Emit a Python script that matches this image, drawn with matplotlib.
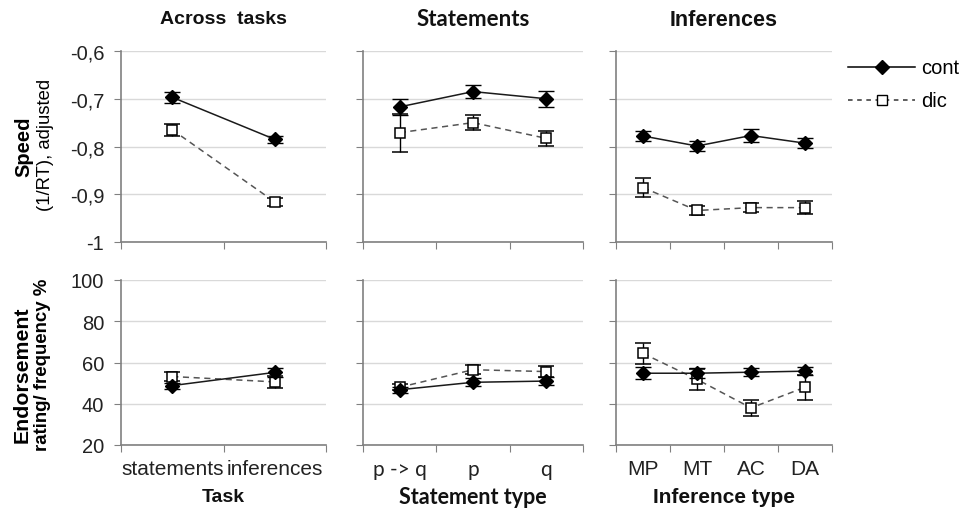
import matplotlib
matplotlib.use('Agg')
import matplotlib.pyplot as plt

plt.rcParams['font.family'] = ['Liberation Sans', 'DejaVu Sans']

task_cats = ['statements', 'inferences']
stmt_cats = ['p -> q', 'p', 'q']
inf_cats = ['MP', 'MT', 'AC', 'DA']

# speed (1/RT), adjusted
speed_task_cont = [-0.697, -0.785]
speed_task_cont_err = [0.012, 0.008]
speed_task_dic = [-0.765, -0.916]
speed_task_dic_err = [0.013, 0.009]
speed_stmt_cont = [-0.717, -0.685, -0.700]
speed_stmt_cont_err = [0.017, 0.014, 0.017]
speed_stmt_dic = [-0.771, -0.750, -0.783]
speed_stmt_dic_err = [0.040, 0.016, 0.016]
speed_inf_cont = [-0.778, -0.799, -0.777, -0.793]
speed_inf_cont_err = [0.010, 0.011, 0.013, 0.010]
speed_inf_dic = [-0.886, -0.934, -0.928, -0.928]
speed_inf_dic_err = [0.019, 0.010, 0.010, 0.014]

# endorsement %
end_task_cont = [48.8, 55.2]
end_task_cont_err = [1.5, 2.0]
end_task_dic = [53.2, 50.6]
end_task_dic_err = [2.0, 2.8]
end_stmt_cont = [46.8, 50.4, 51.0]
end_stmt_cont_err = [1.5, 2.0, 2.0]
end_stmt_dic = [48.0, 56.5, 55.6]
end_stmt_dic_err = [1.5, 2.2, 2.5]
end_inf_cont = [54.8, 54.8, 55.3, 55.8]
end_inf_cont_err = [3.0, 2.5, 2.0, 2.0]
end_inf_dic = [64.4, 51.8, 38.0, 48.0]
end_inf_dic_err = [5.0, 5.0, 4.0, 6.0]

speed_ticks = [-1, -0.9, -0.8, -0.7, -0.6]
speed_ticklabels = ['-1', '-0,9', '-0,8', '-0,7', '-0,6']
end_ticks = [20, 40, 60, 80, 100]

W, H = 966, 510
fig = plt.figure(figsize=(W / 100, H / 100), dpi=100)

cols = [(121, 326), (363, 583), (616, 832)]
top_row = (52, 243)
bot_row = (281, 446)


def make_ax(col, row):
    x0, x1 = col
    y0, y1 = row
    return fig.add_axes([x0 / W, 1 - y1 / H, (x1 - x0) / W, (y1 - y0) / H])


def draw(ax, cats, cont, cont_err, dic, dic_err):
    x = list(range(len(cats)))
    ax.errorbar(x, dic, yerr=dic_err, color='#555555', ls=(0, (4, 3)), lw=1.1,
                marker='s', ms=7, mfc='white', mec='black', mew=1.1,
                ecolor='black', elinewidth=1, capsize=5.5, capthick=1, zorder=3)
    ax.errorbar(x, cont, yerr=cont_err, color='#1a1a1a', ls='-', lw=1.1,
                marker='D', ms=7.5, mfc='black', mec='black',
                ecolor='black', elinewidth=1, capsize=5.5, capthick=1, zorder=4)
    ax.set_xlim(-0.5, len(cats) - 0.5)
    ax.set_xticks([i - 0.5 for i in range(len(cats) + 1)])
    ax.set_xticklabels([])
    ax.set_xticks(x, minor=True)
    ax.tick_params(axis='x', which='major', length=5, color='#808080', direction='out')
    ax.tick_params(axis='x', which='minor', length=0)
    ax.tick_params(axis='y', length=5, color='#808080', direction='out', labelsize=14.5,
                   pad=7, labelcolor='#222222')
    ax.grid(axis='y', color='#d9d9d9', lw=1)
    ax.set_axisbelow(True)
    for s in ['top', 'right']:
        ax.spines[s].set_visible(False)
    for s in ['left', 'bottom']:
        ax.spines[s].set_color('#808080')
        ax.spines[s].set_linewidth(1.2)


speed_data = [
    (task_cats, speed_task_cont, speed_task_cont_err, speed_task_dic, speed_task_dic_err),
    (stmt_cats, speed_stmt_cont, speed_stmt_cont_err, speed_stmt_dic, speed_stmt_dic_err),
    (inf_cats, speed_inf_cont, speed_inf_cont_err, speed_inf_dic, speed_inf_dic_err),
]
end_data = [
    (task_cats, end_task_cont, end_task_cont_err, end_task_dic, end_task_dic_err),
    (stmt_cats, end_stmt_cont, end_stmt_cont_err, end_stmt_dic, end_stmt_dic_err),
    (inf_cats, end_inf_cont, end_inf_cont_err, end_inf_dic, end_inf_dic_err),
]

titles = ['Across  tasks', 'Statements', 'Inferences']
title_fonts = ['Liberation Sans', 'Lato', 'Liberation Sans']
title_sizes = [14, 16, 15.5]
xlabels = ['Task', 'Statement type', 'Inference type']
xlabel_sizes = [14, 15.5, 15]
tick_fonts = ['Liberation Sans', 'Lato', 'Liberation Sans']

for i in range(3):
    ax = make_ax(cols[i], top_row)
    draw(ax, *speed_data[i])
    ax.set_ylim(-1, -0.6)
    ax.set_yticks(speed_ticks)
    if i == 0:
        ax.set_yticklabels(speed_ticklabels)
    else:
        ax.set_yticklabels([])
    xc = (cols[i][0] + cols[i][1]) / 2 / W
    fig.text(xc, 1 - 20 / H, titles[i], ha='center', va='center', fontsize=title_sizes[i],
             fontweight='bold', family=title_fonts[i], color='#111111')

    ax = make_ax(cols[i], bot_row)
    draw(ax, *end_data[i])
    ax.set_ylim(20, 100)
    ax.set_yticks(end_ticks)
    if i == 0:
        ax.set_yticklabels([str(t) for t in end_ticks])
    else:
        ax.set_yticklabels([])
    ax.set_xticklabels(end_data[i][0], minor=True, fontsize=15,
                       family=tick_fonts[i], color='#222222')
    ax.tick_params(axis='x', which='minor', pad=10)
    fig.text(xc, 1 - 498 / H, xlabels[i], ha='center', va='center', fontsize=xlabel_sizes[i],
             fontweight='bold', family=title_fonts[i], color='#111111')

# y axis labels
fig.text(24 / W, 1 - 147 / H, 'Speed', rotation=90, ha='center', va='center',
         fontsize=14.5, fontweight='bold')
fig.text(45 / W, 1 - 145 / H, '(1/RT), adjusted', rotation=90, ha='center', va='center',
         fontsize=13.3)
fig.text(22 / W, 1 - 375 / H, 'Endorsement', rotation=90, ha='center', va='center',
         fontsize=15.3, fontweight='bold')
fig.text(43 / W, 1 - 365 / H, 'rating/ frequency %', rotation=90, ha='center', va='center',
         fontsize=13.4, fontweight='bold')

# legend
lax = fig.add_axes([845 / W, 1 - 120 / H, 120 / W, 70 / H])
lax.set_xlim(845, 965)
lax.set_ylim(120, 50)
lax.axis('off')
lax.plot([848, 915], [68, 68], color='black', lw=1.1)
lax.plot([882], [68], marker='D', ms=7.5, color='black')
lax.plot([848, 915], [101, 101], color='#333333', lw=1.1, ls=(0, (3, 3)))
lax.plot([882], [101], marker='s', ms=6.5, mfc='white', mec='black', mew=1)
lax.text(921, 68, 'cont', fontsize=14.5, va='center')
lax.text(921, 101, 'dic', fontsize=14.5, va='center')

fig.savefig('out.png', dpi=100)
